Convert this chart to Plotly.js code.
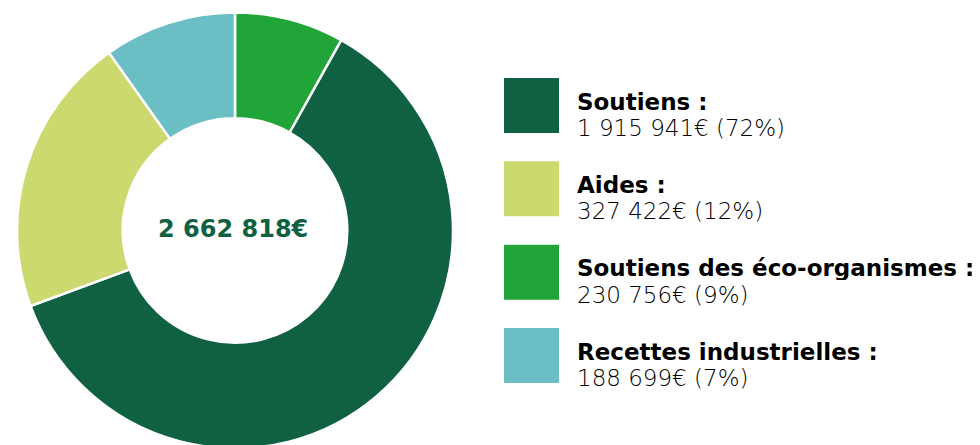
<!DOCTYPE html>
<html><head><meta charset="utf-8">
<script src="https://cdn.plot.ly/plotly-3.0.1.min.js"></script>
<style>html,body{margin:0;padding:0;overflow:hidden;background:#fff}#chart{width:980px;height:461px}</style>
</head><body><div id="chart"></div><script>
// Slices, in clockwise order from 12 o'clock (shares as drawn in the picture)
const categories = ["Soutiens des éco-organismes", "Soutiens", "Aides", "Recettes industrielles"];
const sliceShares = [8.1, 61.2, 20.8, 9.8];
const colorByCategory = {
  "Soutiens": "#0f6141",
  "Aides": "#cbd96f",
  "Soutiens des éco-organismes": "#21a538",
  "Recettes industrielles": "#6abec4"
};
// Legend (as printed)
const legendCategories = ["Soutiens", "Aides", "Soutiens des éco-organismes", "Recettes industrielles"];
const legendAmounts = ["1 915 941€", "327 422€", "230 756€", "188 699€"];
const legendPercents = ["72%", "12%", "9%", "7%"];
const totalLabel = "2 662 818€";

const W = 980, H = 461, MT = 12, MB = 12;
const PH = H - MT - MB;
const px = x => x / W;
const py = y => (H - MB - y) / PH;
const FONT = "DejaVu Sans";

const trace = {
  type: "pie",
  labels: categories,
  values: sliceShares,
  marker: {colors: categories.map(c => colorByCategory[c]), line: {color: "#ffffff", width: 2.5}},
  hole: 0.515,
  sort: false,
  direction: "clockwise",
  rotation: 0,
  textinfo: "none",
  hoverinfo: "label",
  showlegend: false,
  domain: {x: [px(17), px(453)], y: [0, 1]}
};

const shapes = [], annotations = [];
annotations.push({
  xref: "paper", yref: "paper", x: px(233), y: py(229),
  xanchor: "center", yanchor: "middle", showarrow: false,
  text: "<b>" + totalLabel + "</b>",
  font: {family: FONT, size: 24, color: "#0f6141", weight: 700}
});
const tops = [78, 161.3, 244.7, 328];
legendCategories.forEach((c, i) => {
  const t = tops[i];
  shapes.push({type: "rect", xref: "paper", yref: "paper",
    x0: px(504), x1: px(559), y0: py(t), y1: py(t + 55),
    fillcolor: colorByCategory[c], line: {width: 0}});
  annotations.push({
    xref: "paper", yref: "paper", x: px(575), y: py(t + 23),
    xanchor: "left", yanchor: "middle", showarrow: false, height: 25,
    text: "<b>" + c + " :</b>",
    font: {family: FONT, size: 23, color: "#000000", weight: 700}
  });
  annotations.push({
    xref: "paper", yref: "paper", x: px(575), y: py(t + 49.5),
    xanchor: "left", yanchor: "middle", showarrow: false, height: 25,
    text: legendAmounts[i] + " (" + legendPercents[i] + ")",
    font: {family: FONT, size: 23, color: "#000000", weight: 300}
  });
});

Plotly.newPlot("chart", [trace], {
  width: W, height: H,
  margin: {l: 0, r: 0, t: MT, b: MB},
  paper_bgcolor: "#ffffff", plot_bgcolor: "#ffffff",
  shapes: shapes, annotations: annotations
}, {staticPlot: true});
</script></body></html>
